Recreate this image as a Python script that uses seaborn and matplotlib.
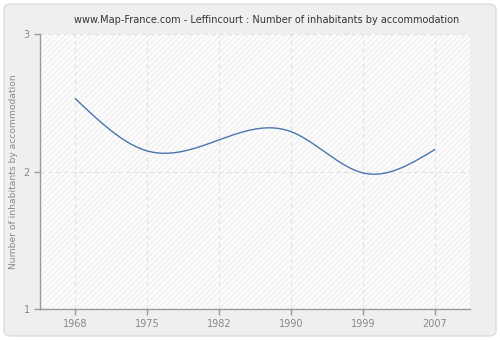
import numpy as np
import pandas as pd
import matplotlib
matplotlib.use("Agg")
import matplotlib.pyplot as plt
from matplotlib.patches import FancyBboxPatch
import seaborn as sns

years = ["1968", "1975", "1982", "1990", "1999", "2007"]
inhabitants = [2.53, 2.15, 2.23, 2.29, 1.99, 2.16]
y_ticks = [1, 2, 3]


def natural_spline(x, y, n=400):
    x = np.asarray(x, float)
    y = np.asarray(y, float)
    k = len(x)
    h = np.diff(x)
    A = np.zeros((k, k))
    b = np.zeros(k)
    A[0, 0] = A[-1, -1] = 1
    for i in range(1, k - 1):
        A[i, i - 1] = h[i - 1]
        A[i, i] = 2 * (h[i - 1] + h[i])
        A[i, i + 1] = h[i]
        b[i] = 6 * ((y[i + 1] - y[i]) / h[i] - (y[i] - y[i - 1]) / h[i - 1])
    m = np.linalg.solve(A, b)
    xs = np.linspace(x[0], x[-1], n)
    idx = np.clip(np.searchsorted(x, xs) - 1, 0, k - 2)
    x0, x1 = x[idx], x[idx + 1]
    hh = x1 - x0
    t0, t1 = x1 - xs, xs - x0
    ys = (m[idx] * t0 ** 3 / (6 * hh) + m[idx + 1] * t1 ** 3 / (6 * hh)
          + (y[idx] / hh - m[idx] * hh / 6) * t0
          + (y[idx + 1] / hh - m[idx + 1] * hh / 6) * t1)
    return xs, ys


pos = np.arange(len(years))
xs, ys = natural_spline(pos, inhabitants)
curve = pd.DataFrame({"x": xs, "y": ys})

sns.set_theme(style="white")
plt.rcParams["font.family"] = ["DejaVu Sans"]
plt.rcParams["hatch.color"] = "#efefef"
plt.rcParams["hatch.linewidth"] = 0.8

fig = plt.figure(figsize=(5, 3.4), dpi=100)
fig.patch.set_facecolor("white")
fig.patches.append(FancyBboxPatch((0.008, 0.012), 0.984, 0.976,
                                  boxstyle="round,pad=0,rounding_size=0.015",
                                  transform=fig.transFigure, facecolor="#efefef",
                                  edgecolor="#dcdcdc", linewidth=1.0, zorder=-10))

ax = fig.add_axes([0.08, 0.091, 0.86, 0.809])
ax.set_facecolor("#fcfcfc")
ax.add_patch(plt.Rectangle((0, 0), 1, 1, transform=ax.transAxes, facecolor="none",
                           edgecolor="#efefef", hatch="//////", linewidth=0, zorder=0))

sns.lineplot(data=curve, x="x", y="y", ax=ax, color="#4a76ae", linewidth=1.0,
             estimator=None, sort=False, zorder=3)

ax.set_xlim(-0.49, len(years) - 1 + 0.49)
ax.set_ylim(1, 3)
ax.set_xticks(pos)
ax.set_xticklabels(years)
ax.set_yticks(y_ticks)
ax.set_xlabel("")
ax.set_ylabel("Number of inhabitants by accommodation", color="#888888", fontsize=6.6)
fig.text(0.534, 0.942,
         "www.Map-France.com - Leffincourt : Number of inhabitants by accommodation",
         fontsize=7, color="#333333", ha="center", va="center")

ax.grid(True, color="#e2e2e2", linestyle=(0, (4, 3)), linewidth=0.8)
ax.set_axisbelow(True)
for s in ["top", "right"]:
    ax.spines[s].set_visible(False)
for s in ["left", "bottom"]:
    ax.spines[s].set_color("#999999")
    ax.spines[s].set_linewidth(1.0)
ax.tick_params(axis="both", colors="#999999", labelcolor="#888888", labelsize=7,
               length=4, width=1, direction="out", bottom=True, left=True)

fig.savefig("out.png", dpi=100, facecolor=fig.get_facecolor())
